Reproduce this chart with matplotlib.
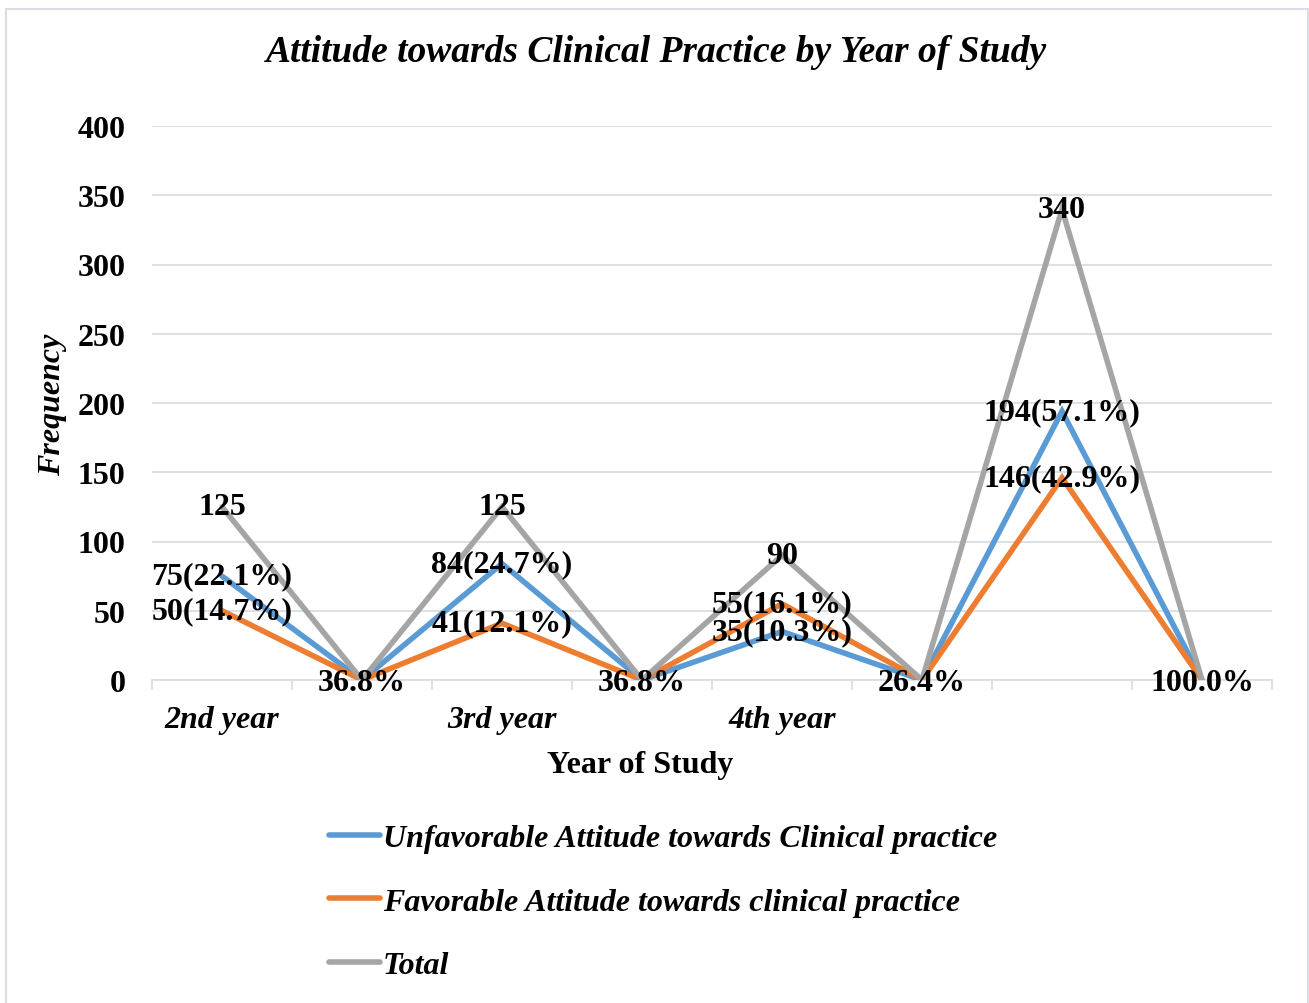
import numpy as np
import matplotlib.pyplot as plt
from matplotlib.patches import Rectangle

# DATA

categories = ['2nd year', '', '3rd year', '', '4th year', '', '', '']
unfavorable = [75, 0, 84, 0, 35, 0, 194, 0]
favorable = [50, 0, 41, 0, 55, 0, 146, 0]
total = [125, 0, 125, 0, 90, 0, 340, 0]

unfav_labels = ['75(22.1%)', '', '84(24.7%)', '', '35(10.3%)', '', '194(57.1%)', '']
fav_labels = ['50(14.7%)', '', '41(12.1%)', '', '55(16.1%)', '', '146(42.9%)', '']
total_labels = ['125', '36.8%', '125', '36.8%', '90', '26.4%', '340', '100.0%']

series_names = ['Unfavorable Attitude towards Clinical practice',
                'Favorable Attitude towards clinical practice',
                'Total']
colors = ['#5B9BD5', '#ED7D31', '#A5A5A5']

# PLOTTING

plt.rcParams['font.family'] = ['Liberation Serif', 'DejaVu Serif']
W, H = 1309, 1004
fig = plt.figure(figsize=(W / 100, H / 100), dpi=100)

# chart border
fig.patches.append(Rectangle((6 / W, -0.01), (1302 / W), (1004 - 10) / H + 0.01,
                             transform=fig.transFigure, fill=False,
                             edgecolor='#D9DEE6', linewidth=1.5))

ax = fig.add_axes([152 / W, 1 - 681 / H, (1272 - 152) / W, (681 - 127) / H])
x = np.arange(len(categories))

lines = []
for vals, c, name in zip([unfavorable, favorable, total], colors, series_names):
    ln, = ax.plot(x, vals, color=c, lw=4, solid_joinstyle='miter',
                  solid_capstyle='round', label=name, zorder=3)
    lines.append(ln)

lab_kw = dict(ha='center', va='center', fontsize=23, fontweight='bold', zorder=5)
for labels, vals in [(unfav_labels, unfavorable), (fav_labels, favorable),
                     (total_labels, total)]:
    for xi, v, t in zip(x, vals, labels):
        if t:
            ax.text(xi, v - (2 if v == 0 else 0), t, **lab_kw)

ax.set_xlim(-0.5, len(categories) - 0.5)
ax.set_ylim(0, 400)
ax.set_yticks(np.arange(0, 401, 50))
ax.grid(axis='y', color='#D9DEE6', lw=1.3)
ax.set_axisbelow(True)

# tick marks between categories, labels at category centres
ax.set_xticks(np.arange(-0.5, len(categories), 1))
ax.set_xticklabels([])
ax.tick_params(axis='x', which='major', length=7, color='#D9DEE6', width=1.3)
ax.set_xticks(x, minor=True)
ax.set_xticklabels(categories, minor=True, fontsize=23, fontweight='bold',
                   fontstyle='italic')
ax.tick_params(axis='x', which='minor', length=0, pad=18)
ax.tick_params(axis='y', length=0, pad=19, labelsize=23)
for lbl in ax.get_yticklabels():
    lbl.set_fontweight('bold')

for s in ['top', 'right', 'left']:
    ax.spines[s].set_visible(False)
ax.spines['bottom'].set_color('#D9DEE6')
ax.spines['bottom'].set_linewidth(1.3)

fig.text(640 / W, 1 - 766 / H, 'Year of Study', ha='center', va='center',
         fontsize=23, fontweight='bold')
fig.text(53 / W, 1 - 405 / H, 'Frequency', ha='center', va='center', rotation=90,
         fontsize=23, fontweight='bold', fontstyle='italic')

fig.text(657 / W, 1 - 52 / H, 'Attitude towards Clinical Practice by Year of Study',
         ha='center', va='center', fontsize=27, fontweight='bold', fontstyle='italic')

fig.legend(handles=lines, loc='upper left', bbox_to_anchor=(300 / W, 1 - 796 / H),
           frameon=False, handlelength=1.6, handletextpad=0.1, labelspacing=1.07,
           prop={'size': 23, 'weight': 'bold', 'style': 'italic'})

plt.savefig('out.png', dpi=100)
